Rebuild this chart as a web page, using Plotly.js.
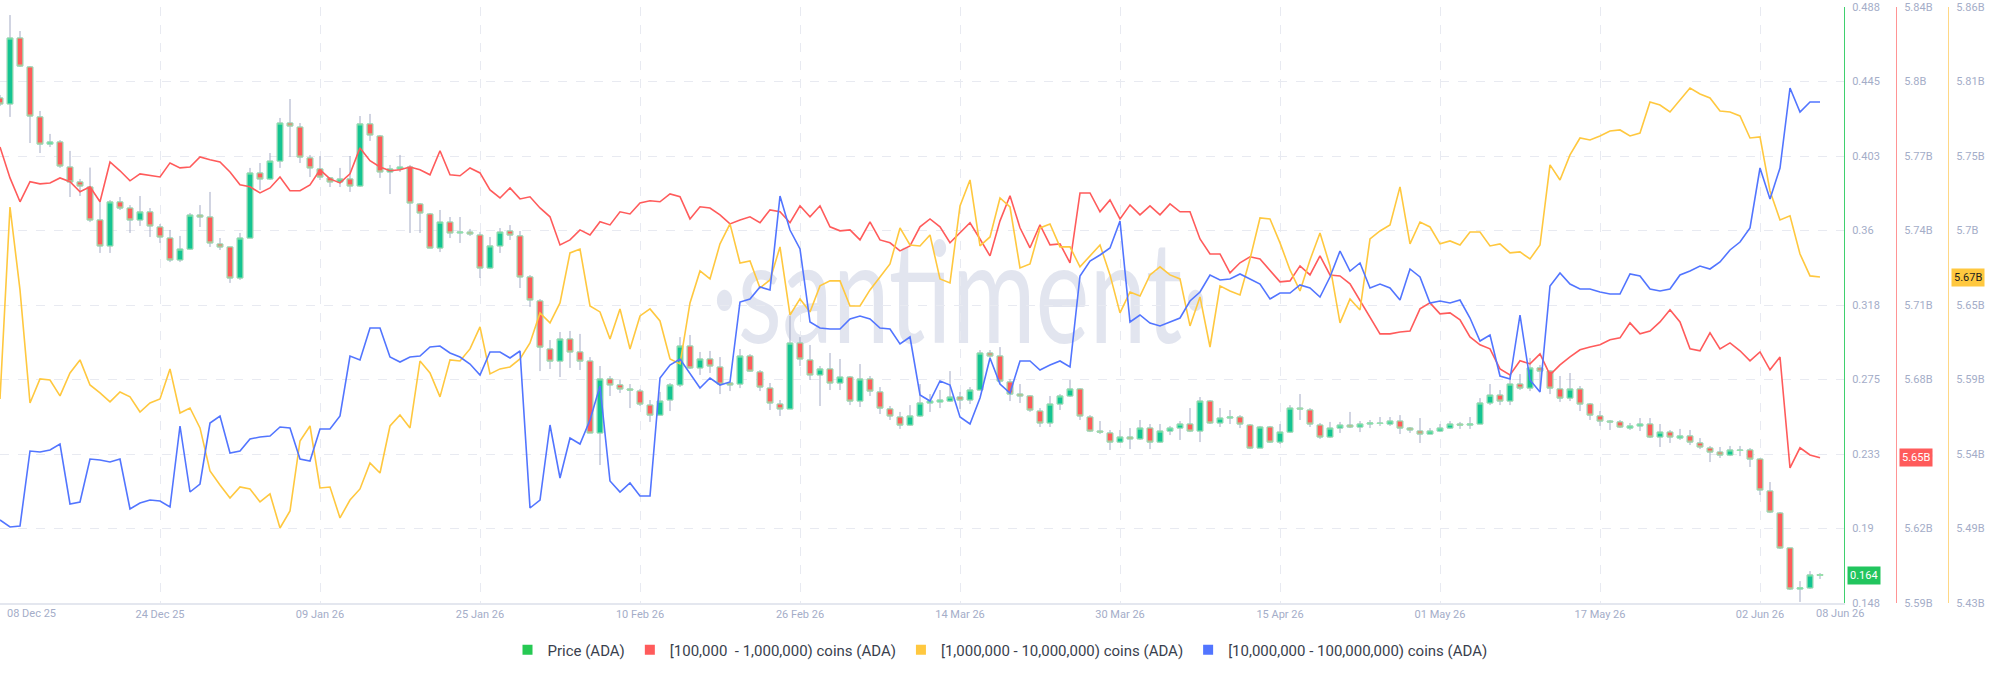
<!DOCTYPE html>
<html>
<head>
<meta charset="utf-8">
<script src="https://cdn.plot.ly/plotly-3.0.1.min.js"></script>
<style>
  html, body { margin: 0; padding: 0; background: #ffffff; width: 2000px; height: 677px; overflow: hidden; }
  #wm { position: absolute; left: 460px; top: 251px; width: 1000px; text-align: center; white-space: nowrap;
        font-family: Lato, "Open Sans", sans-serif; font-weight: 400; font-size: 102px; line-height: 1;
        color: #e2e5ef; transform-origin: 50% 84px; transform: scaleY(1.38); z-index: 0; }
  #chart { position: absolute; left: 0; top: 0; width: 2000px; height: 677px; z-index: 1; }
</style>
</head>
<body>
<div id="wm">·santiment·</div>
<div id="chart"></div>
<script>
// ---- Data (daily, starting 08 Dec 2025) ----
const startDate = [2025, 11, 8];

const open = [
0.4361,0.4327,0.4703,0.4538,0.4253,0.4098,0.4110,0.3967,0.3882,0.3853,
0.3665,0.3517,0.3768,0.3733,0.3665,0.3711,0.3625,0.3562,0.3437,0.3499,
0.3693,0.3682,0.3528,0.3511,0.3334,0.3562,0.3933,0.3899,0.4001,0.4218,
0.4195,0.4019,0.3956,0.3905,0.3882,0.3899,0.3859,0.4213,0.4144,0.3939,
0.3956,0.3967,0.3756,0.3699,0.3505,0.3653,0.3591,0.3596,0.3579,0.3391,
0.3517,0.3602,0.3574,0.3340,0.3203,0.2929,0.2860,0.2986,0.2912,0.2860,
0.2450,0.2758,0.2724,0.2701,0.2689,0.2609,0.2552,0.2638,0.2724,0.2946,
0.2821,0.2872,0.2826,0.2735,0.2729,0.2889,0.2798,0.2706,0.2615,0.2587,
0.2963,0.2866,0.2781,0.2815,0.2735,0.2769,0.2632,0.2758,0.2684,0.2587,
0.2541,0.2495,0.2547,0.2621,0.2627,0.2632,0.2655,0.2638,0.2695,0.2906,
0.2889,0.2741,0.2672,0.2661,0.2575,0.2507,0.2615,0.2661,0.2701,0.2541,
0.2461,0.2450,0.2398,0.2427,0.2416,0.2478,0.2398,0.2461,0.2478,0.2501,
0.2461,0.2632,0.2507,0.2535,0.2541,0.2495,0.2364,0.2484,0.2398,0.2455,
0.2592,0.2581,0.2495,0.2427,0.2478,0.2495,0.2484,0.2501,0.2507,0.2501,
0.2518,0.2478,0.2461,0.2444,0.2461,0.2478,0.2501,0.2495,0.2501,0.2621,
0.2666,0.2632,0.2729,0.2706,0.2821,0.2803,0.2701,0.2649,0.2701,0.2615,
0.2547,0.2518,0.2513,0.2478,0.2490,0.2501,0.2427,0.2455,0.2421,0.2433,
0.2393,0.2364,0.2341,0.2324,0.2353,0.2353,0.2301,0.2119,0.1993,0.1794,
0.1560,0.1566,0.1642];

const high = [
0.4378,0.4834,0.4743,0.4543,0.4287,0.4156,0.4121,0.4059,0.3899,0.3964,
0.3779,0.3779,0.3796,0.3750,0.3802,0.3733,0.3642,0.3608,0.3574,0.3705,
0.3750,0.3825,0.3562,0.3511,0.3591,0.3962,0.3990,0.4047,0.4247,0.4355,
0.4218,0.4036,0.4030,0.3910,0.3962,0.4030,0.4258,0.4270,0.4150,0.3979,
0.4036,0.3979,0.3762,0.3705,0.3722,0.3682,0.3682,0.3614,0.3596,0.3568,
0.3619,0.3636,0.3602,0.3351,0.3214,0.2980,0.3026,0.3032,0.3015,0.2883,
0.2832,0.2775,0.2752,0.2729,0.2701,0.2638,0.2684,0.2735,0.2997,0.3009,
0.2912,0.2918,0.2883,0.2741,0.2929,0.2900,0.2809,0.2735,0.2638,0.3117,
0.2997,0.2952,0.2832,0.2906,0.2872,0.2775,0.2843,0.2775,0.2712,0.2604,
0.2570,0.2609,0.2729,0.2672,0.2695,0.2803,0.2684,0.2712,0.2923,0.2923,
0.2940,0.2758,0.2729,0.2666,0.2592,0.2661,0.2672,0.2752,0.2706,0.2552,
0.2518,0.2467,0.2467,0.2478,0.2524,0.2501,0.2501,0.2490,0.2518,0.2592,
0.2655,0.2638,0.2592,0.2581,0.2552,0.2501,0.2490,0.2490,0.2501,0.2609,
0.2672,0.2592,0.2507,0.2513,0.2513,0.2570,0.2518,0.2524,0.2541,0.2541,
0.2552,0.2484,0.2535,0.2478,0.2501,0.2518,0.2513,0.2541,0.2649,0.2729,
0.2695,0.2786,0.2786,0.2878,0.2838,0.2809,0.2775,0.2792,0.2718,0.2621,
0.2575,0.2524,0.2524,0.2507,0.2535,0.2535,0.2501,0.2467,0.2473,0.2467,
0.2421,0.2376,0.2370,0.2376,0.2376,0.2364,0.2307,0.2170,0.1999,0.1794,
0.1605,0.1662,0.1651];

const low = [
0.4315,0.4253,0.4538,0.4104,0.4047,0.4081,0.3962,0.3796,0.3802,0.3653,
0.3477,0.3477,0.3722,0.3591,0.3631,0.3568,0.3534,0.3425,0.3425,0.3494,
0.3625,0.3511,0.3494,0.3306,0.3323,0.3562,0.3836,0.3893,0.3962,0.4024,
0.3990,0.3910,0.3893,0.3853,0.3853,0.3825,0.3853,0.4116,0.3905,0.3813,
0.3939,0.3591,0.3591,0.3505,0.3482,0.3562,0.3534,0.3574,0.3334,0.3385,
0.3477,0.3551,0.3277,0.3169,0.2803,0.2815,0.2769,0.2821,0.2809,0.2450,
0.2267,0.2661,0.2678,0.2592,0.2604,0.2513,0.2552,0.2575,0.2712,0.2815,
0.2781,0.2792,0.2672,0.2689,0.2706,0.2798,0.2689,0.2581,0.2547,0.2587,
0.2832,0.2752,0.2604,0.2695,0.2695,0.2609,0.2598,0.2661,0.2558,0.2524,
0.2473,0.2490,0.2541,0.2570,0.2592,0.2627,0.2587,0.2615,0.2695,0.2872,
0.2735,0.2632,0.2621,0.2570,0.2484,0.2484,0.2581,0.2655,0.2524,0.2455,
0.2444,0.2353,0.2393,0.2358,0.2410,0.2358,0.2393,0.2438,0.2410,0.2455,
0.2398,0.2501,0.2484,0.2501,0.2478,0.2358,0.2364,0.2393,0.2387,0.2450,
0.2524,0.2484,0.2416,0.2421,0.2450,0.2478,0.2455,0.2478,0.2490,0.2490,
0.2444,0.2450,0.2393,0.2444,0.2455,0.2473,0.2473,0.2473,0.2501,0.2609,
0.2609,0.2609,0.2695,0.2689,0.2701,0.2672,0.2627,0.2632,0.2575,0.2524,
0.2490,0.2467,0.2478,0.2467,0.2461,0.2421,0.2370,0.2393,0.2410,0.2381,
0.2358,0.2284,0.2307,0.2318,0.2318,0.2256,0.2096,0.1993,0.1788,0.1554,
0.1486,0.1560,0.1617];

const close = [
0.4327,0.4703,0.4543,0.4258,0.4098,0.4110,0.3973,0.3882,0.3859,0.3665,
0.3517,0.3768,0.3733,0.3665,0.3711,0.3631,0.3568,0.3437,0.3499,0.3693,
0.3682,0.3534,0.3511,0.3334,0.3562,0.3933,0.3899,0.4001,0.4218,0.4201,
0.4024,0.3962,0.3910,0.3882,0.3899,0.3859,0.4213,0.4150,0.3939,0.3956,
0.3967,0.3762,0.3705,0.3505,0.3653,0.3591,0.3596,0.3585,0.3391,0.3517,
0.3596,0.3579,0.3340,0.3209,0.2940,0.2860,0.2986,0.2912,0.2860,0.2450,
0.2758,0.2724,0.2701,0.2695,0.2615,0.2552,0.2632,0.2724,0.2946,0.2821,
0.2872,0.2832,0.2729,0.2724,0.2889,0.2803,0.2712,0.2621,0.2587,0.2963,
0.2872,0.2781,0.2815,0.2735,0.2769,0.2632,0.2758,0.2689,0.2592,0.2547,
0.2495,0.2547,0.2621,0.2632,0.2638,0.2655,0.2638,0.2695,0.2906,0.2889,
0.2746,0.2672,0.2661,0.2581,0.2507,0.2615,0.2661,0.2701,0.2547,0.2461,
0.2455,0.2398,0.2427,0.2416,0.2478,0.2398,0.2461,0.2478,0.2501,0.2461,
0.2632,0.2507,0.2535,0.2541,0.2501,0.2364,0.2484,0.2398,0.2455,0.2592,
0.2587,0.2501,0.2427,0.2478,0.2495,0.2484,0.2501,0.2507,0.2504,0.2518,
0.2478,0.2467,0.2444,0.2461,0.2478,0.2501,0.2495,0.2501,0.2621,0.2666,
0.2632,0.2729,0.2706,0.2821,0.2803,0.2706,0.2649,0.2701,0.2615,0.2552,
0.2518,0.2513,0.2484,0.2490,0.2501,0.2427,0.2455,0.2427,0.2433,0.2398,
0.2370,0.2341,0.2324,0.2353,0.2350,0.2301,0.2125,0.1999,0.1794,0.1560,
0.1566,0.1640,0.1638];

// [100,000 - 1,000,000) coins, billions
const holders100k = [
5.7813,5.7683,5.7583,5.7667,5.7658,5.7662,5.7683,5.7667,5.7625,5.7646,
5.7583,5.7750,5.7713,5.7671,5.7700,5.7692,5.7687,5.7746,5.7725,5.7729,
5.7771,5.7759,5.7750,5.7708,5.7654,5.7646,5.7620,5.7641,5.7687,5.7629,
5.7629,5.7654,5.7717,5.7679,5.7662,5.7700,5.7809,5.7755,5.7729,5.7713,
5.7717,5.7729,5.7717,5.7696,5.7797,5.7696,
5.7692,5.7725,5.7704,5.7633,5.7599,5.7641,5.7595,5.7604,5.7557,5.7520,5.7402,5.7423,5.7465,5.7444,5.7499,5.7486,5.7541,5.7532,5.7578,5.7587,5.7583,5.7616,5.7604,
5.7511,5.7562,5.7557,5.7528,5.7490,5.7507,5.7520,5.7495,5.7549,5.7541,5.7495,5.7566,5.7520,5.7566,5.7478,5.7461,5.7465,5.7423,5.7499,5.7423,5.7411,5.7377,5.7398,
5.7478,5.7511,5.7478,5.7411,5.7453,5.7495,5.7427,5.7356,5.7503,5.7608,5.7474,5.7390,5.7486,5.7402,5.7406,5.7327,5.7620,5.7620,5.7541,5.7591,5.7511,5.7570,5.7528,
5.7566,5.7528,5.7574,5.7541,5.7541,5.7427,5.7364,5.7364,5.7285,5.7327,5.7352,5.7343,5.7293,5.7247,5.7251,5.7314,5.7276,5.7356,5.7276,5.7272,5.7239,5.7167,5.7100,
5.7029,5.7029,5.7037,5.7041,5.7134,5.7159,5.7113,5.7117,5.7088,5.7016,5.6983,5.6966,5.6882,5.6857,5.6916,5.6903,5.6945,5.6857,5.6899,5.6932,5.6962,5.6974,5.6983,
5.7004,5.7012,5.7075,5.7029,5.7041,5.7079,5.7130,5.7079,5.6966,5.6958,5.7033,5.6966,5.6991,5.6958,5.6916,5.6953,5.6878,5.6932,5.6467,5.6551,5.6521,5.6509];

// [1,000,000 - 10,000,000) coins, billions
const holders1m = [
5.5772,5.7157,5.6559,5.5743,5.5917,5.5909,5.5794,5.5960,5.6054,5.5873,
5.5816,5.5751,5.5823,5.5787,5.5678,5.5743,5.5772,5.5989,5.5671,5.5707,
5.5563,5.5253,5.5152,5.5058,5.5137,5.5123,5.5029,5.5087,5.4841,5.4964,
5.5469,5.5577,5.5130,5.5137,5.4914,5.5043,5.5123,5.5311,5.5238,5.5577,
5.5657,5.5563,5.6046,5.5960,5.5787,5.6054,
5.6046,5.6133,5.6292,5.5953,5.5989,5.6003,5.6061,5.6176,5.6393,5.6321,5.6465,5.6826,5.6854,5.6443,5.6400,5.6205,5.6422,5.6133,5.6371,5.6422,5.6335,5.6061,5.6025,
5.6465,5.6696,5.6638,5.6891,5.7035,5.6753,5.6768,5.6573,5.6631,5.6869,5.6378,5.6494,5.6400,5.6588,5.6624,5.6624,5.6443,5.6443,5.6559,5.6652,5.6746,5.7006,5.6883,
5.6876,5.6955,5.6638,5.6609,5.7165,5.7352,5.6876,5.6941,5.7222,5.7157,5.6717,5.6746,5.7006,5.7035,5.6869,5.6869,5.6725,5.6804,5.6883,5.6667,5.6393,5.6544,5.6515,
5.6667,5.6725,5.6667,5.6638,5.6299,5.6508,5.6147,5.6588,5.6551,5.6523,5.6782,5.7078,5.7071,5.6898,5.6703,5.6551,5.6775,5.6970,5.6732,5.6321,5.6494,5.6414,5.6927,
5.6984,5.7028,5.7302,5.6891,5.7049,5.7013,5.6891,5.6912,5.6883,5.6977,5.6977,5.6876,5.6891,5.6826,5.6833,5.6782,5.6883,5.7461,5.7352,5.7533,5.7655,5.7641,5.7670,
5.7706,5.7713,5.7670,5.7691,5.7915,5.7893,5.7843,5.7929,5.8016,5.7973,5.7944,5.7850,5.7843,5.7814,5.7655,5.7663,5.7273,5.7064,5.7093,5.6818,5.6660,5.6652];

// [10,000,000 - 100,000,000) coins, billions (no axis shown in the source)
const holders10m = [
12.083,12.076,12.077,12.152,12.151,12.153,12.159,12.099,12.101,12.144,
12.143,12.141,12.144,12.094,12.100,12.103,12.102,12.096,12.177,12.111,
12.119,12.180,12.187,12.150,12.152,12.164,12.166,12.167,12.176,12.175,
12.144,12.142,12.174,12.174,12.187,12.247,12.243,12.275,12.275,12.246,
12.241,12.246,12.247,12.256,12.257,12.250,
12.246,12.239,12.228,12.251,12.251,12.245,12.252,12.095,12.103,12.178,12.125,12.165,12.159,12.183,12.217,12.122,12.111,12.120,12.107,12.107,12.225,12.238,12.244,
12.229,12.215,12.225,12.218,12.221,12.301,12.304,12.316,12.313,12.407,12.373,12.354,12.281,12.275,12.274,12.274,12.284,12.287,12.284,12.275,12.274,12.259,12.266,
12.208,12.202,12.222,12.218,12.186,12.179,12.205,12.245,12.219,12.210,12.242,12.242,12.233,12.238,12.242,12.236,12.327,12.342,12.348,12.355,12.382,12.281,12.288,
12.280,12.277,12.281,12.285,12.302,12.311,12.328,12.323,12.324,12.329,12.324,12.319,12.304,12.310,12.310,12.318,12.315,12.306,12.326,12.352,12.332,12.340,12.315,
12.319,12.315,12.303,12.334,12.326,12.300,12.302,12.300,12.303,12.285,12.262,12.268,12.227,12.224,12.288,12.223,12.211,12.317,12.330,12.319,12.314,12.314,12.311,
12.309,12.309,12.329,12.327,12.314,12.312,12.314,12.328,12.332,12.337,12.334,12.341,12.353,12.361,12.375,12.435,12.404,12.435,12.515,12.491,12.501,12.501];

// Axis ticks
const xTickVals = ['2025-12-08','2025-12-24','2026-01-09','2026-01-25','2026-02-10','2026-02-26',
                   '2026-03-14','2026-03-30','2026-04-15','2026-05-01','2026-05-17','2026-06-02'];
const xTickText = ['','24 Dec 25','09 Jan 26','25 Jan 26','10 Feb 26','26 Feb 26',
                   '14 Mar 26','30 Mar 26','15 Apr 26','01 May 26','17 May 26','02 Jun 26'];
const firstDateLabel = '08 Dec 25';
const lastDateLabel = '08 Jun 26';

const priceRange = [0.148, 0.488];
const priceTickVals = [0.148,0.1905,0.233,0.2755,0.318,0.3605,0.403,0.4455,0.488];
const priceTickText = ['0.148','0.19','0.233','0.275','0.318','0.36','0.403','0.445','0.488'];

const redRange = [5.59, 5.84];
const redTickVals = [5.59,5.62125,5.6525,5.68375,5.715,5.74625,5.7775,5.80875,5.84];
const redTickText = ['5.59B','5.62B','5.65B','5.68B','5.71B','5.74B','5.77B','5.8B','5.84B'];

const yelRange = [5.43, 5.86];
const yelTickVals = [5.43,5.48375,5.5375,5.59125,5.645,5.69875,5.7525,5.80625,5.86];
const yelTickText = ['5.43B','5.49B','5.54B','5.59B','5.65B','5.7B','5.75B','5.81B','5.86B'];

const blueRange = [12.0, 12.596];

const names = ['Price (ADA)', '[100,000  - 1,000,000) coins (ADA)',
               '[1,000,000 - 10,000,000) coins (ADA)', '[10,000,000 - 100,000,000) coins (ADA)'];
const colors = {green:'#26C953', red:'#FF5B5B', yellow:'#FFC83F', blue:'#5275FF',
                candleUp:'#14C393', candleDown:'#FF5B5B', wick:'#A3AAC5', bodyEdge:'#96E6AD'};

// ---- Build ----
const N = open.length;
const dates = Array.from({length: N}, (_, i) =>
  new Date(Date.UTC(startDate[0], startDate[1], startDate[2] + i)).toISOString().slice(0, 10));
const bodyHigh = open.map((o, i) => Math.max(o, close[i]));
const bodyLow = open.map((o, i) => Math.min(o, close[i]));

const t0 = Date.UTC(startDate[0], startDate[1], startDate[2]);
const fmt = ms => new Date(ms).toISOString().replace('T', ' ').replace('Z', '');
const xRange = [fmt(t0), fmt(t0 + 184.4 * 86400000)];

const tickColor = '#A4ADC8';
const gridColor = '#E8EAF1';
const tickFont = {family: 'Roboto, sans-serif', size: 11, color: tickColor};

const traces = [
  {type:'candlestick', x:dates, open:open, high:high, low:low, close:close,
   increasing:{line:{color:colors.wick, width:1}, fillcolor:colors.candleUp},
   decreasing:{line:{color:colors.wick, width:1}, fillcolor:colors.candleDown},
   whiskerwidth:0, showlegend:false, hoverinfo:'skip', xaxis:'x', yaxis:'y'},
  {type:'candlestick', x:dates, open:open, high:bodyHigh, low:bodyLow, close:close,
   increasing:{line:{color:colors.bodyEdge, width:1}, fillcolor:colors.candleUp},
   decreasing:{line:{color:colors.bodyEdge, width:1}, fillcolor:colors.candleDown},
   whiskerwidth:0, showlegend:false, hoverinfo:'skip', xaxis:'x', yaxis:'y'},
  {type:'scatter', mode:'lines', x:dates, y:holders100k, line:{color:colors.red, width:1.6},
   showlegend:false, hoverinfo:'skip', xaxis:'x', yaxis:'y2'},
  {type:'scatter', mode:'lines', x:dates, y:holders1m, line:{color:colors.yellow, width:1.6},
   showlegend:false, hoverinfo:'skip', xaxis:'x', yaxis:'y3'},
  {type:'scatter', mode:'lines', x:dates, y:holders10m, line:{color:colors.blue, width:1.6},
   showlegend:false, hoverinfo:'skip', xaxis:'x', yaxis:'y4'}
];
// legend entries (square swatches)
[colors.green, colors.red, colors.yellow, colors.blue].forEach((c, i) => {
  traces.push({type:'scatter', mode:'markers', x:[null], y:[null], name:names[i],
               marker:{symbol:'square', size:10, color:c}, showlegend:true, hoverinfo:'skip'});
});

const plotRight = 0.922, redPos = 0.948, yelPos = 0.974;

const badge = (text, x, yref, y, bg, fg) => ({
  text: text, x: x, xref:'paper', xanchor:'left', xshift:3, y: y, yref: yref, yanchor:'middle',
  showarrow:false, bgcolor:bg, borderpad:2, font:{family:'Roboto, sans-serif', size:11, color:fg}
});

const layout = {
  width: 2000, height: 677,
  margin: {l:0, r:0, t:7, b:74},
  paper_bgcolor: 'rgba(0,0,0,0)', plot_bgcolor: 'rgba(0,0,0,0)',
  boxgap: 0.2, hovermode: false,
  font: {family:'Roboto, sans-serif'},
  showlegend: true,
  legend: {orientation:'h', x:0.5, xanchor:'center', y:-0.079, yanchor:'middle',
           font:{family:'Roboto, sans-serif', size:15, color:'#3A3F4E'}, itemclick:false, itemdoubleclick:false},
  xaxis: {type:'date', domain:[0, plotRight], range:xRange, tickvals:xTickVals, ticktext:xTickText,
          showgrid:true, gridcolor:gridColor, griddash:'dash', gridwidth:1,
          showline:true, linecolor:'#E4E7EF', linewidth:2, ticks:'', tickfont:tickFont,
          rangeslider:{visible:false}, zeroline:false, fixedrange:true},
  yaxis: {side:'right', anchor:'x', range:priceRange, tickvals:priceTickVals, ticktext:priceTickText,
          showgrid:true, gridcolor:gridColor, griddash:'dash', gridwidth:1, zeroline:false,
          showline:true, linecolor:'#3FD06E', linewidth:1, ticks:'', ticklabelstandoff:5, tickfont:tickFont, fixedrange:true},
  yaxis2: {overlaying:'y', side:'right', anchor:'free', position:redPos, range:redRange,
           tickvals:redTickVals, ticktext:redTickText, showgrid:false, zeroline:false,
           showline:true, linecolor:'#FF9494', linewidth:1, ticks:'', ticklabelstandoff:5, tickfont:tickFont, fixedrange:true},
  yaxis3: {overlaying:'y', side:'right', anchor:'free', position:yelPos, range:yelRange,
           tickvals:yelTickVals, ticktext:yelTickText, showgrid:false, zeroline:false,
           showline:true, linecolor:'#FFD885', linewidth:1, ticks:'', ticklabelstandoff:5, tickfont:tickFont, fixedrange:true},
  yaxis4: {overlaying:'y', anchor:'x', side:'left', range:blueRange, visible:false, fixedrange:true},
  annotations: [
    {text:firstDateLabel, x:0, xref:'paper', xanchor:'left', xshift:5, y:-0.0168, yref:'paper', yanchor:'middle',
     showarrow:false, font:tickFont},
    {text:lastDateLabel, x:plotRight, xref:'paper', xanchor:'center', xshift:-4, y:-0.0168, yref:'paper', yanchor:'middle',
     showarrow:false, font:tickFont},
    badge(close[N-1].toFixed(3), plotRight, 'y', close[N-1], '#22C55E', '#FFFFFF'),
    badge(holders100k[N-1].toFixed(2) + 'B', redPos, 'y2', holders100k[N-1], '#FF5B5B', '#FFFFFF'),
    badge(holders1m[N-1].toFixed(2) + 'B', yelPos, 'y3', holders1m[N-1], '#FFC83F', '#1E1E1E')
  ]
};

Plotly.newPlot('chart', traces, layout, {displayModeBar:false, staticPlot:true});
</script>
</body>
</html>
